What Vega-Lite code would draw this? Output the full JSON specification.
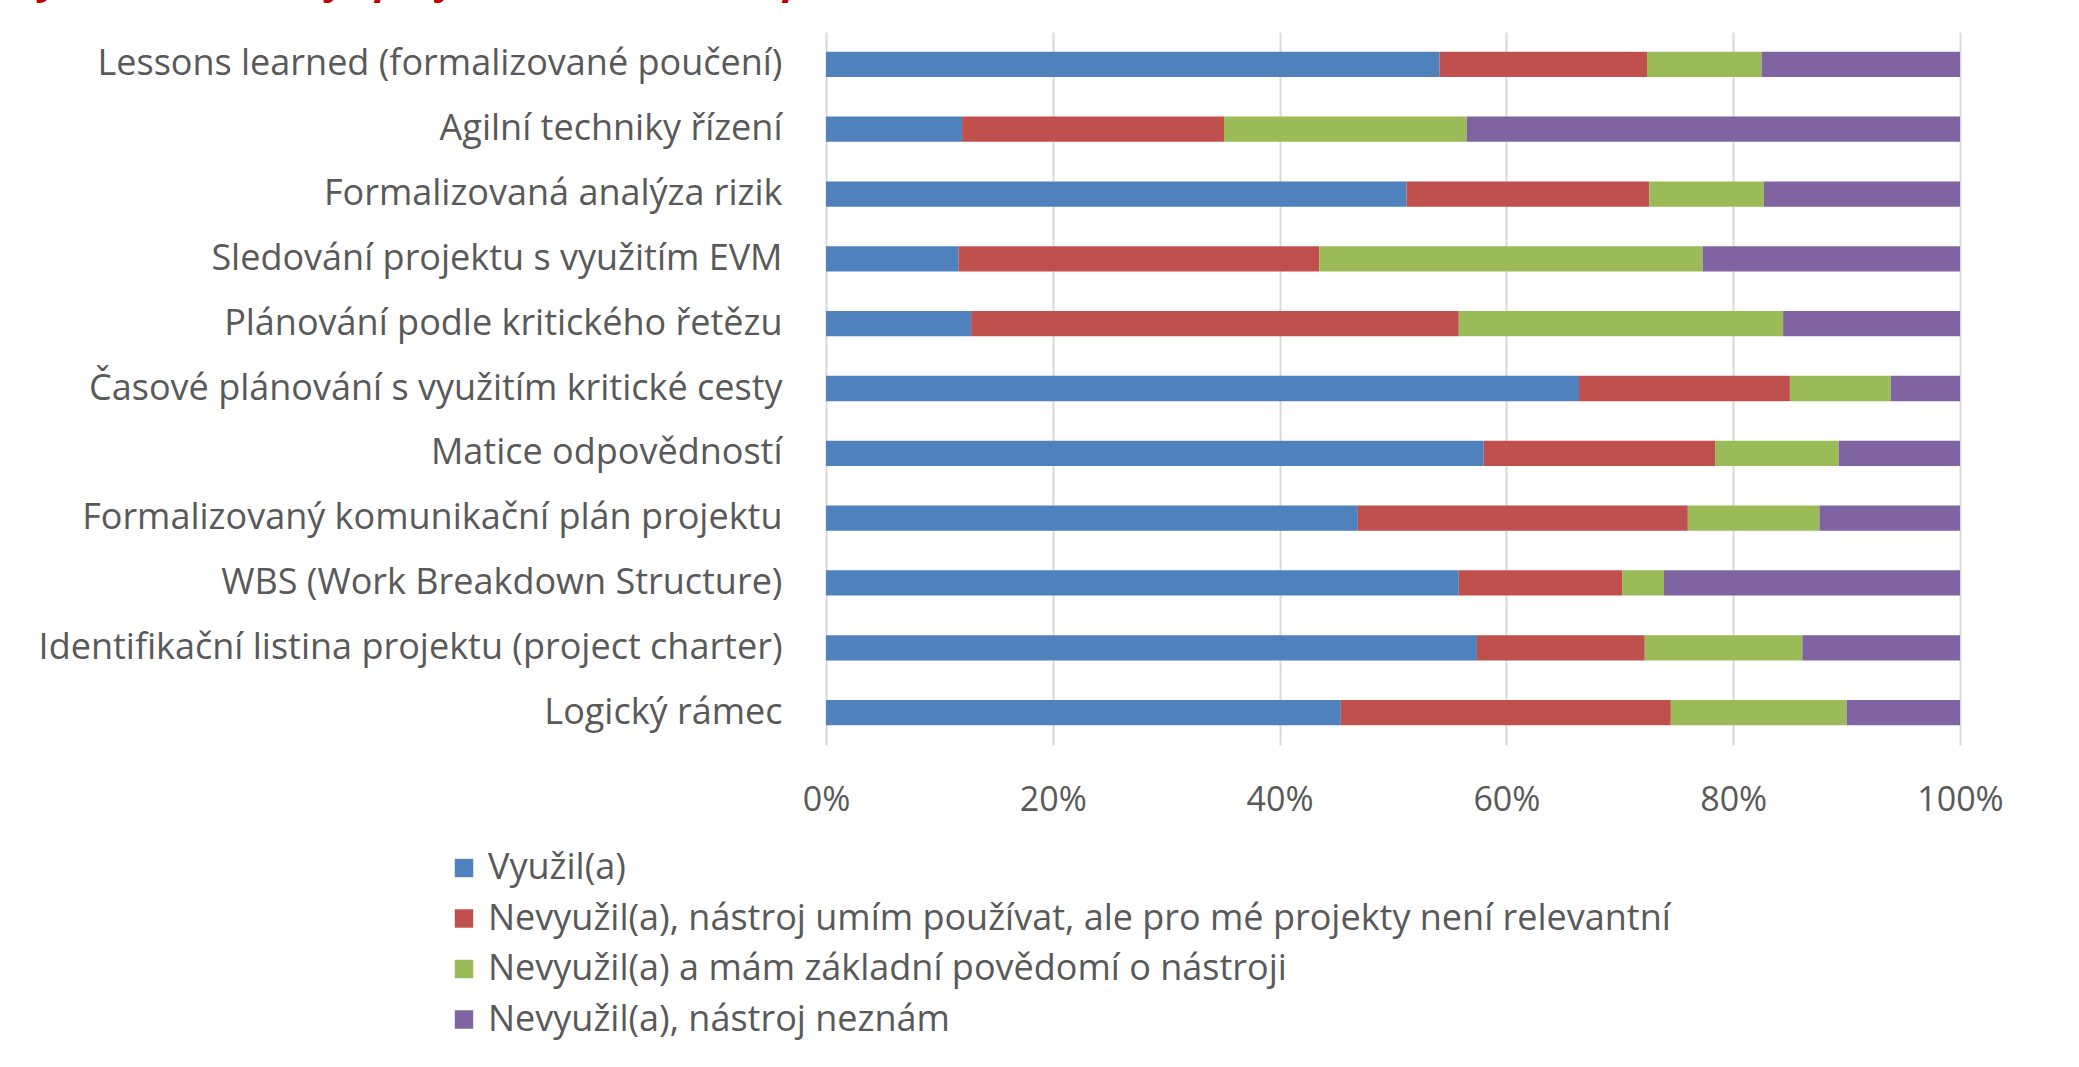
{
  "$schema": "https://vega.github.io/schema/vega-lite/v6.json",
  "width": 1134,
  "height": 713,
  "autosize": {"type": "none"},
  "padding": {"left": 826, "top": 32, "right": 119, "bottom": 322},
  "background": "white",
  "title": {
    "text": "Využívání nástrojů projektového řízení v praxi",
    "anchor": "start",
    "frame": "group",
    "orient": "top",
    "baseline": "bottom",
    "offset": 22,
    "dy": 32,
    "dx": -810,
    "font": "Open Sans",
    "fontSize": 40,
    "fontWeight": "bold",
    "fontStyle": "italic",
    "color": "#C00000"
  },
  "config": {
    "view": {"stroke": null},
    "font": "Open Sans"
  },
  "datasets": {
    "tab": [
      {"nastroj": "Lessons learned (formalizované poučení)", "odpoved": "Využil(a)", "poradi": 1, "podil": 54.1},
      {"nastroj": "Lessons learned (formalizované poučení)", "odpoved": "Nevyužil(a), nástroj umím používat, ale pro mé projekty není relevantní", "poradi": 2, "podil": 18.3},
      {"nastroj": "Lessons learned (formalizované poučení)", "odpoved": "Nevyužil(a) a mám základní povědomí o nástroji", "poradi": 3, "podil": 10.1},
      {"nastroj": "Lessons learned (formalizované poučení)", "odpoved": "Nevyužil(a), nástroj neznám", "poradi": 4, "podil": 17.5},
      {"nastroj": "Agilní techniky řízení", "odpoved": "Využil(a)", "poradi": 1, "podil": 12.0},
      {"nastroj": "Agilní techniky řízení", "odpoved": "Nevyužil(a), nástroj umím používat, ale pro mé projekty není relevantní", "poradi": 2, "podil": 23.1},
      {"nastroj": "Agilní techniky řízení", "odpoved": "Nevyužil(a) a mám základní povědomí o nástroji", "poradi": 3, "podil": 21.4},
      {"nastroj": "Agilní techniky řízení", "odpoved": "Nevyužil(a), nástroj neznám", "poradi": 4, "podil": 43.5},
      {"nastroj": "Formalizovaná analýza rizik", "odpoved": "Využil(a)", "poradi": 1, "podil": 51.2},
      {"nastroj": "Formalizovaná analýza rizik", "odpoved": "Nevyužil(a), nástroj umím používat, ale pro mé projekty není relevantní", "poradi": 2, "podil": 21.4},
      {"nastroj": "Formalizovaná analýza rizik", "odpoved": "Nevyužil(a) a mám základní povědomí o nástroji", "poradi": 3, "podil": 10.1},
      {"nastroj": "Formalizovaná analýza rizik", "odpoved": "Nevyužil(a), nástroj neznám", "poradi": 4, "podil": 17.3},
      {"nastroj": "Sledování projektu s využitím EVM", "odpoved": "Využil(a)", "poradi": 1, "podil": 11.7},
      {"nastroj": "Sledování projektu s využitím EVM", "odpoved": "Nevyužil(a), nástroj umím používat, ale pro mé projekty není relevantní", "poradi": 2, "podil": 31.8},
      {"nastroj": "Sledování projektu s využitím EVM", "odpoved": "Nevyužil(a) a mám základní povědomí o nástroji", "poradi": 3, "podil": 33.8},
      {"nastroj": "Sledování projektu s využitím EVM", "odpoved": "Nevyužil(a), nástroj neznám", "poradi": 4, "podil": 22.7},
      {"nastroj": "Plánování podle kritického řetězu", "odpoved": "Využil(a)", "poradi": 1, "podil": 12.8},
      {"nastroj": "Plánování podle kritického řetězu", "odpoved": "Nevyužil(a), nástroj umím používat, ale pro mé projekty není relevantní", "poradi": 2, "podil": 43.0},
      {"nastroj": "Plánování podle kritického řetězu", "odpoved": "Nevyužil(a) a mám základní povědomí o nástroji", "poradi": 3, "podil": 28.6},
      {"nastroj": "Plánování podle kritického řetězu", "odpoved": "Nevyužil(a), nástroj neznám", "poradi": 4, "podil": 15.6},
      {"nastroj": "Časové plánování s využitím kritické cesty", "odpoved": "Využil(a)", "poradi": 1, "podil": 66.4},
      {"nastroj": "Časové plánování s využitím kritické cesty", "odpoved": "Nevyužil(a), nástroj umím používat, ale pro mé projekty není relevantní", "poradi": 2, "podil": 18.6},
      {"nastroj": "Časové plánování s využitím kritické cesty", "odpoved": "Nevyužil(a) a mám základní povědomí o nástroji", "poradi": 3, "podil": 8.9},
      {"nastroj": "Časové plánování s využitím kritické cesty", "odpoved": "Nevyužil(a), nástroj neznám", "poradi": 4, "podil": 6.1},
      {"nastroj": "Matice odpovědností", "odpoved": "Využil(a)", "poradi": 1, "podil": 58.0},
      {"nastroj": "Matice odpovědností", "odpoved": "Nevyužil(a), nástroj umím používat, ale pro mé projekty není relevantní", "poradi": 2, "podil": 20.4},
      {"nastroj": "Matice odpovědností", "odpoved": "Nevyužil(a) a mám základní povědomí o nástroji", "poradi": 3, "podil": 10.9},
      {"nastroj": "Matice odpovědností", "odpoved": "Nevyužil(a), nástroj neznám", "poradi": 4, "podil": 10.7},
      {"nastroj": "Formalizovaný komunikační plán projektu", "odpoved": "Využil(a)", "poradi": 1, "podil": 46.9},
      {"nastroj": "Formalizovaný komunikační plán projektu", "odpoved": "Nevyužil(a), nástroj umím používat, ale pro mé projekty není relevantní", "poradi": 2, "podil": 29.1},
      {"nastroj": "Formalizovaný komunikační plán projektu", "odpoved": "Nevyužil(a) a mám základní povědomí o nástroji", "poradi": 3, "podil": 11.6},
      {"nastroj": "Formalizovaný komunikační plán projektu", "odpoved": "Nevyužil(a), nástroj neznám", "poradi": 4, "podil": 12.4},
      {"nastroj": "WBS (Work Breakdown Structure)", "odpoved": "Využil(a)", "poradi": 1, "podil": 55.8},
      {"nastroj": "WBS (Work Breakdown Structure)", "odpoved": "Nevyužil(a), nástroj umím používat, ale pro mé projekty není relevantní", "poradi": 2, "podil": 14.4},
      {"nastroj": "WBS (Work Breakdown Structure)", "odpoved": "Nevyužil(a) a mám základní povědomí o nástroji", "poradi": 3, "podil": 3.7},
      {"nastroj": "WBS (Work Breakdown Structure)", "odpoved": "Nevyužil(a), nástroj neznám", "poradi": 4, "podil": 26.1},
      {"nastroj": "Identifikační listina projektu (project charter)", "odpoved": "Využil(a)", "poradi": 1, "podil": 57.4},
      {"nastroj": "Identifikační listina projektu (project charter)", "odpoved": "Nevyužil(a), nástroj umím používat, ale pro mé projekty není relevantní", "poradi": 2, "podil": 14.8},
      {"nastroj": "Identifikační listina projektu (project charter)", "odpoved": "Nevyužil(a) a mám základní povědomí o nástroji", "poradi": 3, "podil": 13.9},
      {"nastroj": "Identifikační listina projektu (project charter)", "odpoved": "Nevyužil(a), nástroj neznám", "poradi": 4, "podil": 13.9},
      {"nastroj": "Logický rámec", "odpoved": "Využil(a)", "poradi": 1, "podil": 45.4},
      {"nastroj": "Logický rámec", "odpoved": "Nevyužil(a), nástroj umím používat, ale pro mé projekty není relevantní", "poradi": 2, "podil": 29.1},
      {"nastroj": "Logický rámec", "odpoved": "Nevyužil(a) a mám základní povědomí o nástroji", "poradi": 3, "podil": 15.5},
      {"nastroj": "Logický rámec", "odpoved": "Nevyužil(a), nástroj neznám", "poradi": 4, "podil": 10.0}
    ]
  },
  "data": {"name": "tab"},
  "mark": {"type": "bar"},
  "encoding": {
    "y": {
      "field": "nastroj",
      "type": "nominal",
      "sort": null,
      "scale": {"paddingInner": 0.61, "paddingOuter": 0.305},
      "axis": {
        "title": null,
        "domain": false,
        "ticks": false,
        "labelPadding": 44,
        "labelFontSize": 36,
        "labelColor": "#595959",
        "labelFont": "Open Sans",
        "labelLimit": 1000
      }
    },
    "x": {
      "field": "podil",
      "type": "quantitative",
      "stack": "normalize",
      "scale": {"domain": [0, 1], "nice": false},
      "axis": {
        "title": null,
        "format": ".0%",
        "values": [0, 0.2, 0.4, 0.6, 0.8, 1],
        "domain": false,
        "ticks": false,
        "labelPadding": 38,
        "labelFontSize": 34,
        "labelColor": "#595959",
        "labelFont": "Open Sans",
        "gridColor": "#d9d9d9",
        "gridWidth": 2,
        "labelFlush": false
      }
    },
    "order": {"field": "poradi", "type": "quantitative"},
    "color": {
      "field": "odpoved",
      "type": "nominal",
      "scale": {
        "domain": [
          "Využil(a)",
          "Nevyužil(a), nástroj umím používat, ale pro mé projekty není relevantní",
          "Nevyužil(a) a mám základní povědomí o nástroji",
          "Nevyužil(a), nástroj neznám"
        ],
        "range": ["#4F81BD", "#C0504D", "#9BBB59", "#8064A2"]
      },
      "legend": {
        "title": null,
        "orient": "none",
        "direction": "vertical",
        "legendX": -380,
        "legendY": 818,
        "symbolType": "square",
        "symbolSize": 340,
        "symbolStrokeWidth": 0,
        "symbolOpacity": 1,
        "labelFontSize": 36,
        "labelColor": "#595959",
        "labelFont": "Open Sans",
        "labelLimit": 2000,
        "labelOffset": 6,
        "rowPadding": 14.5
      }
    }
  }
}
